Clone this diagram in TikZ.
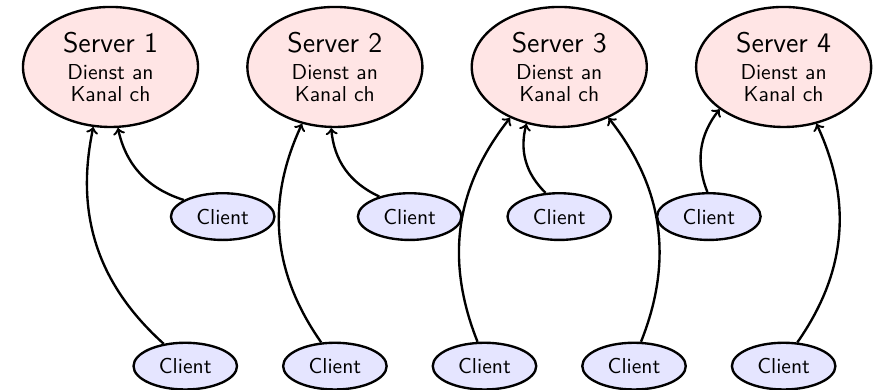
\documentclass[tikz,border=0pt,11pt]{standalone}
\usepackage{tikz}
\usetikzlibrary{shapes.geometric, arrows}

\begin{document}
\begin{tikzpicture}[->,very thick,font=\sffamily,
    server/.style={ellipse,draw,fill=red!10,inner sep=1pt,align=center,
                   minimum width=3.12cm,minimum height=2.14cm},
    client/.style={ellipse,draw,fill=blue!10,
                   minimum width=1.845cm,minimum height=0.833cm}]
    \useasboundingbox (-1.97,1.194) rectangle (13.70,-5.758);

    % servers
    \foreach \i/\x in {1/0,2/4,3/8,4/12}
        \node[server] (srv\i) at (\x,0)
            {{\Large Server \i}\\ Dienst an\\[-2.5pt] Kanal ch};

    % clients, upper row
    \node[client] (cl1) at (2,-2.667) {Client};
    \node[client] (cl2) at (5.333,-2.667) {Client};
    \node[client] (cl3) at (8,-2.667) {Client};
    \node[client] (cl4) at (10.667,-2.667) {Client};

    % clients, lower row
    \node[client] (dl1) at (1.333,-5.333) {Client};
    \node[client] (dl2) at (4,-5.333) {Client};
    \node[client] (dl3) at (6.667,-5.333) {Client};
    \node[client] (dl4) at (9.333,-5.333) {Client};
    \node[client] (dl5) at (12,-5.333) {Client};

    \path (cl1) edge[bend left=30] (srv1)
          (dl1) edge[bend left=30] (srv1)
          (cl2) edge[bend left=30] (srv2)
          (dl2) edge[bend left=30] (srv2)
          (dl3) edge[bend left=30] (srv3)
          (cl3) edge[bend left=30] (srv3)
          (dl4) edge[bend right=30] (srv3)
          (cl4) edge[bend left=30] (srv4)
          (dl5) edge[bend right=30] (srv4);
\end{tikzpicture}
\end{document}
